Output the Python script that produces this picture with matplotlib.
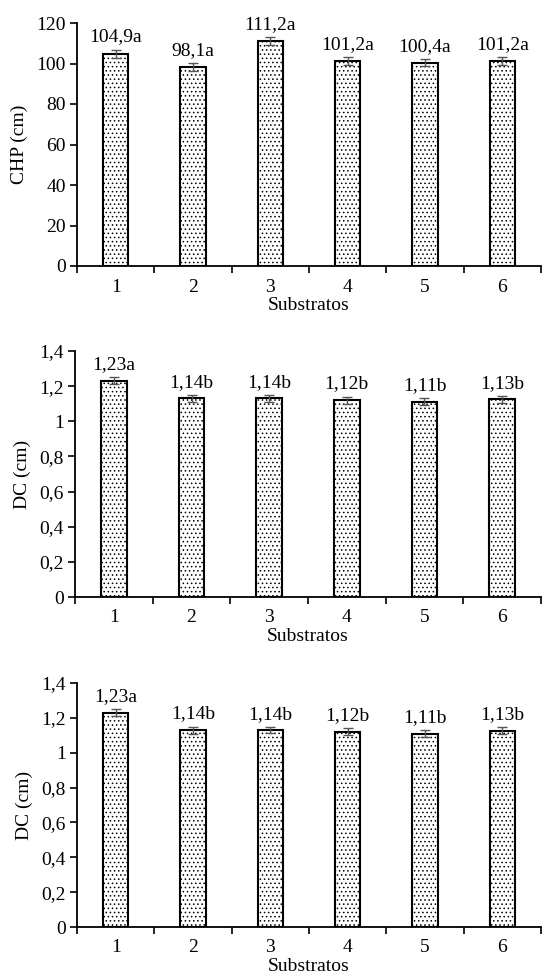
import matplotlib
matplotlib.use("Agg")
import matplotlib.pyplot as plt
from matplotlib.ticker import FuncFormatter

plt.rcParams['font.family'] = ['Liberation Serif', 'DejaVu Serif']
plt.rcParams['hatch.linewidth'] = 0.6

substratos = [1, 2, 3, 4, 5, 6]

chp = [104.9, 98.1, 111.2, 101.2, 100.4, 101.2]
chp_err = [2.0, 2.0, 2.0, 2.0, 1.8, 2.0]
chp_labels = ["104,9a", "98,1a", "111,2a", "101,2a", "100,4a", "101,2a"]

dc = [1.23, 1.13, 1.13, 1.12, 1.11, 1.125]
dc_err = [0.02, 0.02, 0.018, 0.02, 0.02, 0.02]
dc_labels = ["1,23a", "1,14b", "1,14b", "1,12b", "1,11b", "1,13b"]

FS = 14


def fmt(v, pos):
    s = ("%.1f" % v).rstrip("0").rstrip(".")
    return s.replace(".", ",")


def panel(ax, values, errs, labels, ylabel, ymax, ystep):
    x = list(range(len(values)))
    ax.bar(x, values, width=0.33, color="white", edgecolor="black",
           linewidth=1.5, hatch="....", zorder=2)
    ax.errorbar(x, values, yerr=errs, fmt="none", ecolor="#555555",
                elinewidth=1, capsize=3.5, capthick=1, zorder=3)
    for xi, v, e, lab in zip(x, values, errs, labels):
        ax.annotate(lab, (xi, v + e), xytext=(0, 3), textcoords="offset points",
                    ha="center", va="bottom", fontsize=FS)
    ax.set_xlim(-0.5, len(values) - 0.5)
    ax.set_ylim(0, ymax)
    ticks = [i * ystep for i in range(int(round(ymax / ystep)) + 1)]
    ax.set_yticks(ticks)
    ax.yaxis.set_major_formatter(FuncFormatter(fmt))
    # ticks between categories, labels in the middle
    ax.set_xticks([i - 0.5 for i in range(len(values) + 1)])
    ax.set_xticklabels([])
    ax.set_xticks(x, minor=True)
    ax.set_xticklabels([str(s) for s in substratos], minor=True)
    ax.tick_params(axis="x", which="major", direction="out", length=5, width=1.2)
    ax.tick_params(axis="x", which="minor", length=0, pad=9, labelsize=FS)
    ax.tick_params(axis="y", direction="out", length=5, width=1.2, labelsize=FS, pad=3)
    ax.spines["top"].set_visible(False)
    ax.spines["right"].set_visible(False)
    ax.spines["left"].set_linewidth(1.3)
    ax.spines["bottom"].set_linewidth(1.3)
    ax.set_ylabel(ylabel, fontsize=FS, labelpad=6)
    ax.set_xlabel("Substratos", fontsize=FS, labelpad=1)


fig = plt.figure(figsize=(5.44, 9.76), dpi=100)
W, H = 544, 976


def add_axes(left, top, bottom, right=541):
    return fig.add_axes([left / W, (H - bottom) / H, (right - left) / W, (bottom - top) / H])


ax1 = add_axes(77, 23, 266)
ax2 = add_axes(75, 351, 597)
ax3 = add_axes(77, 683, 927)

panel(ax1, chp, chp_err, chp_labels, "CHP (cm)", 120, 20)
panel(ax2, dc, dc_err, dc_labels, "DC (cm)", 1.4, 0.2)
panel(ax3, dc, dc_err, dc_labels, "DC (cm)", 1.4, 0.2)

fig.savefig("out.png", dpi=100)
